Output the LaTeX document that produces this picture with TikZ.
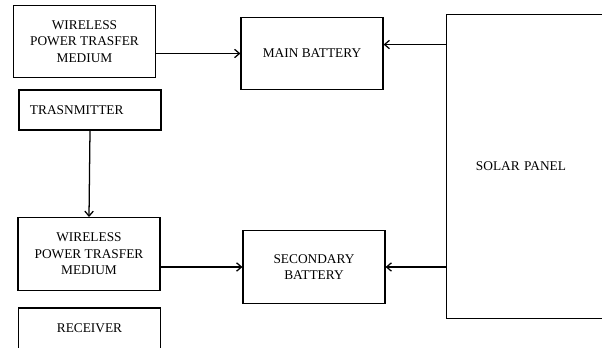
\documentclass[tikz,border=0pt]{standalone}
\usepackage{fontspec}
\setmainfont{Liberation Serif}
\usetikzlibrary{arrows.meta, positioning, calc}

\begin{document}
\begin{tikzpicture}[
    x=0.025cm, y=-0.025cm,
    block/.style={rectangle, draw, line width=0.8pt, minimum width=3.55cm, minimum height=1.82cm, align=center, font=\fontsize{9.5}{11.8}\selectfont},
    thinblock/.style={block, minimum height=1cm},
    panel/.style={rectangle, draw, line width=0.6pt, minimum width=4.6cm, minimum height=7.6cm, align=center, font=\fontsize{9.5}{11.8}\selectfont},
    arrow/.style={-{Straight Barb[length=3.5pt, width=6pt]}, line width=0.9pt}
]
    \useasboundingbox (0,0) rectangle (602,347);

    % Left column
    \node[block] (WPT1) at (84.5,41.5) {WIRELESS\\POWER TRASFER\\MEDIUM};
    \node[thinblock, text width=3.0cm, align=left] (TX) at (90,110) {TRASNMITTER};
    \node[block] (WPT2) at (89,254) {WIRELESS\\POWER TRASFER\\MEDIUM};
    \node[thinblock, minimum height=1.5cm, text depth=0.5cm] (RX) at (89.5,338) {RECEIVER};

    % Batteries
    \node[block] (MB) at (312,53.5) {MAIN BATTERY};
    \node[block] (SB) at (314,267) {SECONDARY\\BATTERY};

    % Solar panel
    \node[panel, text width=3.1cm, align=left, inner xsep=0.75cm] (SP) at (538,166) {SOLAR PANEL};

    % Arrows
    \draw[arrow] (WPT1.east |- MB.west) -- (MB.west);
    \draw[arrow] (TX.south) -- (WPT2.north);
    \draw[arrow] (WPT2.east |- SB.west) -- (SB.west);
    \draw[arrow] ($(SP.north west)+(0,31)$) -- (MB.east |- {$(SP.north west)+(0,31)$});
    \draw[arrow] (SP.west |- SB.east) -- (SB.east);
\end{tikzpicture}
\end{document}
